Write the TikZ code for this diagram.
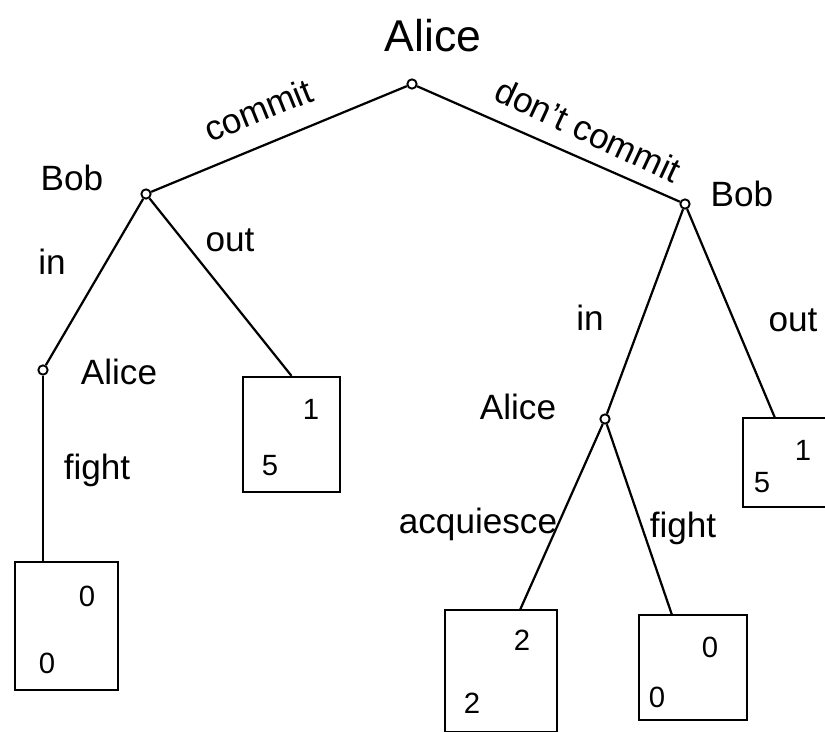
\documentclass[tikz,border=0pt]{standalone}
\usepackage{fontspec}
\setmainfont{Liberation Sans}
\begin{document}
\begin{tikzpicture}[x=0.3mm,y=-0.3mm,
  every node/.style={inner sep=0pt},
  dec/.style={circle,draw,fill=white,line width=1.6pt,minimum size=2.8mm},
  edge/.style={line width=1.9pt},
  payoff/.style={draw,line width=1.9pt,rectangle},
  lab/.style={font=\fontsize{30}{34}\selectfont},
  biglab/.style={font=\fontsize{38}{42}\selectfont},
  num/.style={font=\fontsize{25}{28}\selectfont}]
\useasboundingbox (0,0) rectangle (825,732);
\clip (0,0) rectangle (825,732);
\fill[white] (0,0) rectangle (825,732);
% payoff boxes
\node[payoff,minimum width=29.1mm,minimum height=34.5mm] (box1) at (291.5,434.5) {};
\node[payoff,minimum width=30.9mm,minimum height=38.4mm] (box2) at (66.5,626) {};
\node[payoff,minimum width=28.2mm,minimum height=26.7mm] (box3) at (790,462.5) {};
\node[payoff,minimum width=33.6mm,minimum height=36.6mm] (box4) at (501,671) {};
\node[payoff,minimum width=32.4mm,minimum height=31.5mm] (box5) at (693,667.5) {};
\coordinate (e2) at (43,562);
\coordinate (e3) at (775,418);
\coordinate (e4) at (520,610);
\coordinate (e5) at (672,615);
% decision nodes
\node[dec] (r)  at (412,84) {};
\node[dec] (b1) at (146,194) {};
\node[dec] (b2) at (685,204) {};
\node[dec] (a1) at (43,370) {};
\node[dec] (a2) at (605,419) {};
% connectors
\draw[edge] (r) -- (b1);
\draw[edge] (r) -- (b2);
\draw[edge] (b1) -- (a1);
\draw[edge] (b1) -- (box1.north);
\draw[edge] (a1) -- (e2);
\draw[edge] (b2) -- (a2);
\draw[edge] (b2) -- (e3);
\draw[edge] (a2) -- (e4);
\draw[edge] (a2) -- (e5);
% player labels
\node[biglab] (lr)  at (433,36) {Alice};
\node[lab] (lb1) at (72,178) {Bob};
\node[lab] (lb2) at (742,194) {Bob};
\node[lab] (la1) at (119,372) {Alice};
\node[lab] (la2) at (518,407) {Alice};
% action labels
\node[lab,rotate=22] (tc) at (258,110) {commit};
\node[lab,rotate=-25] (tdc) at (588,130) {don't commit};
\node[lab] (tin1) at (52,262) {in};
\node[lab] (tout1) at (230,240) {out};
\node[lab] (tf1) at (97,470) {fight};
\node[lab] (tin2) at (590,318) {in};
\node[lab] (tout2) at (793,320) {out};
\node[lab] (tacq) at (478,524) {acquiesce};
\node[lab] (tf2) at (683,528) {fight};
% payoffs
\node[num] (p11) at (311,409) {1};
\node[num] (p12) at (270,466) {5};
\node[num] (p21) at (87,596) {0};
\node[num] (p22) at (47,663) {0};
\node[num] (p31) at (803,450) {1};
\node[num] (p32) at (762,483) {5};
\node[num] (p41) at (522,640) {2};
\node[num] (p42) at (472,703) {2};
\node[num] (p51) at (710,647) {0};
\node[num] (p52) at (657,697) {0};
\end{tikzpicture}
\end{document}
